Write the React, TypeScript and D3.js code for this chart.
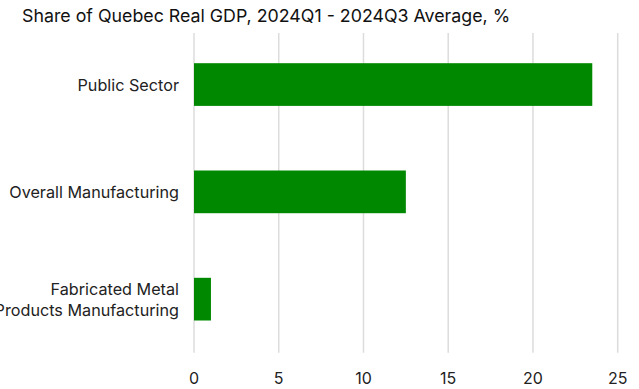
import React from "react";
import * as d3 from "d3";

const categories = ["Public Sector", "Overall Manufacturing", "Fabricated Metal\nProducts Manufacturing"];
const values = [23.5, 12.5, 1.0];
const ticks = [0, 5, 10, 15, 20, 25];
const title = "Share of Quebec Real GDP, 2024Q1 - 2024Q3 Average, %";

export default function App() {
  const W = 639, H = 389;
  const x = d3.scaleLinear().domain([0, 25]).range([194, 617.7]);
  const y = d3.scaleBand<string>().domain(categories).range([31, 352.7]).paddingInner(0.602).paddingOuter(0.3);
  const font = "Inter, 'Noto Sans', sans-serif";
  return (
    <svg width={W} height={H} style={{ position: "absolute", left: 0, top: 0 }} fontFamily={font}>
      <rect width={W} height={H} fill="#fff" />
      <text x={22} y={22} fontSize={17.8} fill="#111">{title}</text>
      {ticks.map((t) => (
        <g key={t}>
          <line x1={x(t)} x2={x(t)} y1={33} y2={352.7} stroke="#dcdcdc" strokeWidth={1.5} />
          <text x={x(t)} y={384} fontSize={16} textAnchor="middle" fill="#222">{t}</text>
        </g>
      ))}
      {categories.map((c, i) => {
        const lines = c.split("\n");
        const cy = (y(c) as number) + y.bandwidth() / 2;
        return (
          <g key={c}>
            <rect x={x(0)} y={y(c)} width={x(values[i]) - x(0)} height={y.bandwidth()} fill="#008800" />
            <text x={179} y={cy - ((lines.length - 1) * 21) / 2 + 6} fontSize={16.2} textAnchor="end" fill="#222">
              {lines.map((l, k) => (
                <tspan key={k} x={179} dy={k === 0 ? 0 : 21}>{l}</tspan>
              ))}
            </text>
          </g>
        );
      })}
    </svg>
  );
}
